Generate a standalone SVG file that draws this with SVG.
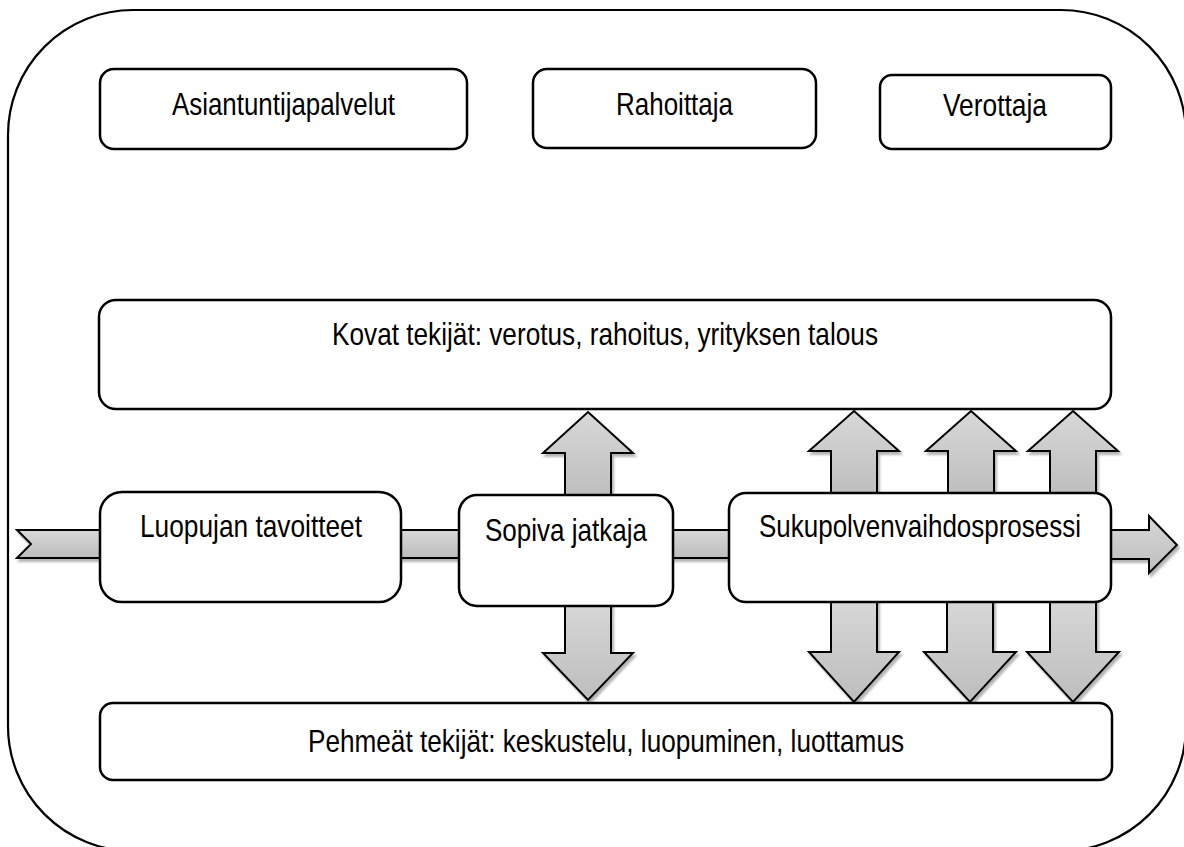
<svg xmlns="http://www.w3.org/2000/svg" width="1184" height="847" viewBox="0 0 1184 847">
<style>
.box{fill:#fff;stroke:#000;stroke-width:2.5}
.frame{fill:#fff;stroke:#000;stroke-width:2.2}
.arr{fill:url(#g);stroke:#000;stroke-width:2;filter:url(#sh);stroke-linejoin:miter}
.t{font-family:"Liberation Sans",Arial,sans-serif;font-size:32px;fill:#000}
</style>
<defs>
<linearGradient id="g" x1="0" y1="0" x2="0" y2="1">
<stop offset="0" stop-color="#d8d8d8"/>
<stop offset="1" stop-color="#bdbdbd"/>
</linearGradient>
<filter id="sh" x="-20%" y="-20%" width="140%" height="140%">
<feDropShadow dx="2" dy="3" stdDeviation="1" flood-color="#777" flood-opacity="0.55"/>
</filter>
</defs>
<rect class="frame" x="8" y="10" width="1178" height="841" rx="125" ry="125"/>
<g id="connectors">
<polygon class="arr" points="17,530 110,530 110,558 17,558 31,544"/>
<rect class="arr" x="395" y="530" width="70" height="28"/>
<rect class="arr" x="667" y="530" width="68" height="28"/>
<polygon class="arr" points="1105,530 1149,530 1149,516 1177,545 1149,573 1149,559 1105,559"/>
<polygon class="arr" points="588,412 633,453 611,453 611,499 565,499 565,453 543,453"/>
<polygon class="arr" points="565,600 611,600 611,653 633,653 588,700 543,653 565,653"/>
<polygon class="arr" points="854,411 899,451 877,451 877,497 831,497 831,451 809,451"/>
<polygon class="arr" points="971,411 1016,451 994,451 994,497 948,497 948,451 926,451"/>
<polygon class="arr" points="1073,411 1118,451 1096,451 1096,497 1050,497 1050,451 1028,451"/>
<polygon class="arr" points="831,598 877,598 877,652 899,652 854,702 809,652 831,652"/>
<polygon class="arr" points="947,598 993,598 993,652 1016,652 970,702 924,652 947,652"/>
<polygon class="arr" points="1050,598 1096,598 1096,652 1119,652 1073,702 1027,652 1050,652"/>
</g>
<g id="asiantuntijapalvelut">
<rect class="box" x="100" y="69" width="367" height="80" rx="14"/>
<text class="t" x="172" y="115" textLength="223" lengthAdjust="spacingAndGlyphs">Asiantuntijapalvelut</text>
</g>
<g id="rahoittaja">
<rect class="box" x="533" y="69" width="283" height="79" rx="14"/>
<text class="t" x="616" y="115" textLength="117" lengthAdjust="spacingAndGlyphs">Rahoittaja</text>
</g>
<g id="verottaja">
<rect class="box" x="880" y="75" width="231" height="74" rx="12"/>
<text class="t" x="943" y="116" textLength="104" lengthAdjust="spacingAndGlyphs">Verottaja</text>
</g>
<g id="kovat">
<rect class="box" x="99" y="300" width="1012" height="109" rx="17"/>
<text class="t" x="332" y="345" textLength="546" lengthAdjust="spacingAndGlyphs">Kovat tekijät: verotus, rahoitus, yrityksen talous</text>
</g>
<g id="luopujan">
<rect class="box" x="100" y="492" width="301" height="110" rx="22"/>
<text class="t" x="140" y="537" textLength="222" lengthAdjust="spacingAndGlyphs">Luopujan tavoitteet</text>
</g>
<g id="sopiva">
<rect class="box" x="459" y="495" width="214" height="111" rx="18"/>
<text class="t" x="485" y="541" textLength="162" lengthAdjust="spacingAndGlyphs">Sopiva jatkaja</text>
</g>
<g id="sukupolvenvaihdos">
<rect class="box" x="729" y="493" width="382" height="109" rx="17"/>
<text class="t" x="759" y="537" textLength="322" lengthAdjust="spacingAndGlyphs">Sukupolvenvaihdosprosessi</text>
</g>
<g id="pehmeat">
<rect class="box" x="100" y="703" width="1012" height="77" rx="13"/>
<text class="t" x="308" y="752" textLength="596" lengthAdjust="spacingAndGlyphs">Pehmeät tekijät: keskustelu, luopuminen, luottamus</text>
</g>
</svg>
